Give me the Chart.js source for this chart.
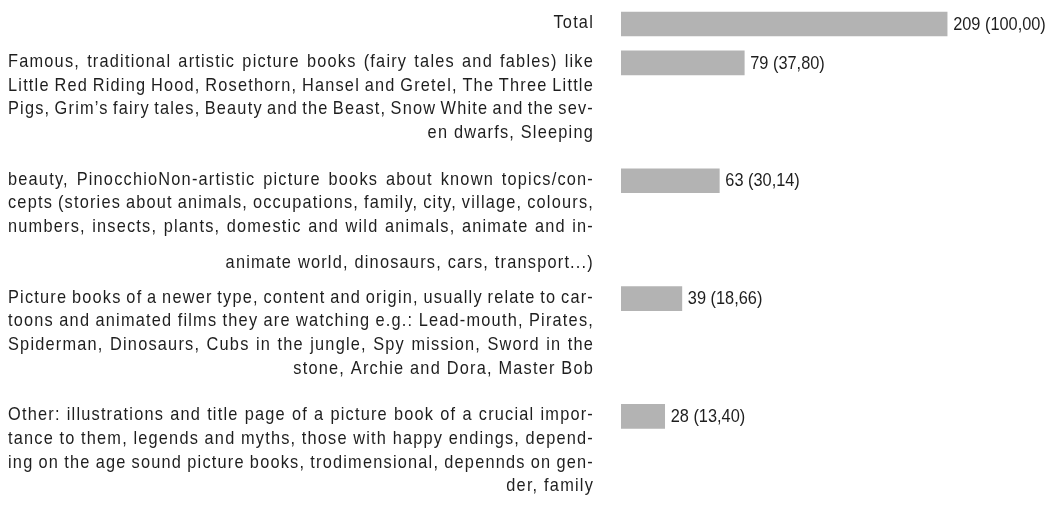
<!DOCTYPE html>
<html>
<head>
<meta charset="utf-8">
<script src="https://cdn.jsdelivr.net/npm/chart.js@4/dist/chart.umd.min.js"></script>
<style>
  html, body { margin: 0; padding: 0; background: #fff; }
  #wrap { width: 1047px; height: 511px; position: relative; }
</style>
</head>
<body>
<div id="wrap"><canvas id="chart"></canvas></div>
<script>
// category labels, one entry per printed line
const categories = [
  ['Total'],
  ['Famous, traditional artistic picture books (fairy tales and fables) like',
   'Little Red Riding Hood, Rosethorn, Hansel and Gretel, The Three Little',
   'Pigs, Grim\u2019s fairy tales, Beauty and the Beast, Snow White and the sev-',
   'en dwarfs, Sleeping'],
  ['beauty, PinocchioNon-artistic picture books about known topics/con-',
   'cepts (stories about animals, occupations, family, city, village, colours,',
   'numbers, insects, plants, domestic and wild animals, animate and in-',
   'animate world, dinosaurs, cars, transport...)'],
  ['Picture books of a newer type, content and origin, usually relate to car-',
   'toons and animated films they are watching e.g.: Lead-mouth, Pirates,',
   'Spiderman, Dinosaurs, Cubs in the jungle, Spy mission, Sword in the',
   'stone, Archie and Dora, Master Bob'],
  ['Other: illustrations and title page of a picture book of a crucial impor-',
   'tance to them, legends and myths, those with happy endings, depend-',
   'ing on the age sound picture books, trodimensional, depennds on gen-',
   'der, family']
];
const counts = [209, 79, 63, 39, 28];
const percents = ['100,00', '37,80', '30,14', '18,66', '13,40'];

const FONT = '19px "Liberation Sans", Arial, sans-serif';
const hScale = 0.86;     // narrow the glyphs a little
const lineH = 23.7;
const rowGap = 0.48;     // gap between rows, in row units

// row positions follow the number of label lines above each row
const rowPos = [];
let acc = 0;
categories.forEach(lines => {
  rowPos.push(acc);
  acc += lines.length + rowGap;
});

function drawNarrow(ctx, text, x, y, align) {
  ctx.save();
  ctx.translate(x, y);
  ctx.scale(hScale, 1);
  ctx.textAlign = align;
  ctx.fillText(text, 0, 0);
  ctx.restore();
}

const labelPlugin = {
  id: 'labels',
  afterDraw(chart, args, opts) {
    const ctx = chart.ctx;
    const y = chart.scales.y;
    const left = 8, right = 594;
    ctx.save();
    ctx.font = FONT;
    ctx.fillStyle = '#1e1e1e';
    categories.forEach((lines, i) => {
      const yc = y.getPixelForValue(rowPos[i]);
      ctx.letterSpacing = '1.4px';
      ctx.textBaseline = 'alphabetic';
      lines.forEach((line, k) => {
        let ly = yc + 4 + k * lineH;
        if (k === lines.length - 1) {
          if (k > 0) ly += opts.lastDrop[i] || 0;
          drawNarrow(ctx, line, right, ly, 'right');
        } else {
          // justified line
          const words = line.split(' ');
          const ws = words.map(t => ctx.measureText(t).width * hScale);
          const total = ws.reduce((s, v) => s + v, 0);
          const gap = (right - left - total) / (words.length - 1);
          let x = left;
          words.forEach((t, j) => {
            drawNarrow(ctx, t, x, ly, 'left');
            x += ws[j] + gap;
          });
        }
      });
      // value label at bar end
      const bar = chart.getDatasetMeta(0).data[i];
      ctx.letterSpacing = '0px';
      ctx.textBaseline = 'middle';
      drawNarrow(ctx, counts[i] + ' (' + percents[i] + ')', bar.x + 6, bar.y + 0.5, 'left');
    });
    ctx.restore();
  }
};

new Chart(document.getElementById('chart'), {
  type: 'bar',
  data: {
    datasets: [{
      data: counts.map((v, i) => ({ x: v, y: rowPos[i] })),
      backgroundColor: '#b3b3b3',
      borderWidth: 0,
      barThickness: 24
    }]
  },
  options: {
    indexAxis: 'y',
    responsive: true,
    maintainAspectRatio: false,
    animation: false,
    layout: { padding: { left: 621, right: 0, top: 0, bottom: 0 } },
    scales: {
      x: { type: 'linear', display: false, min: 0, max: 273 },
      y: { type: 'linear', display: false, offset: false, reverse: true, min: -0.9125, max: 18.517 }
    },
    plugins: {
      legend: { display: false },
      tooltip: { enabled: false },
      labels: { lastDrop: [0, 0, 12, 0, 0] }
    }
  },
  plugins: [labelPlugin]
});
</script>
</body>
</html>
